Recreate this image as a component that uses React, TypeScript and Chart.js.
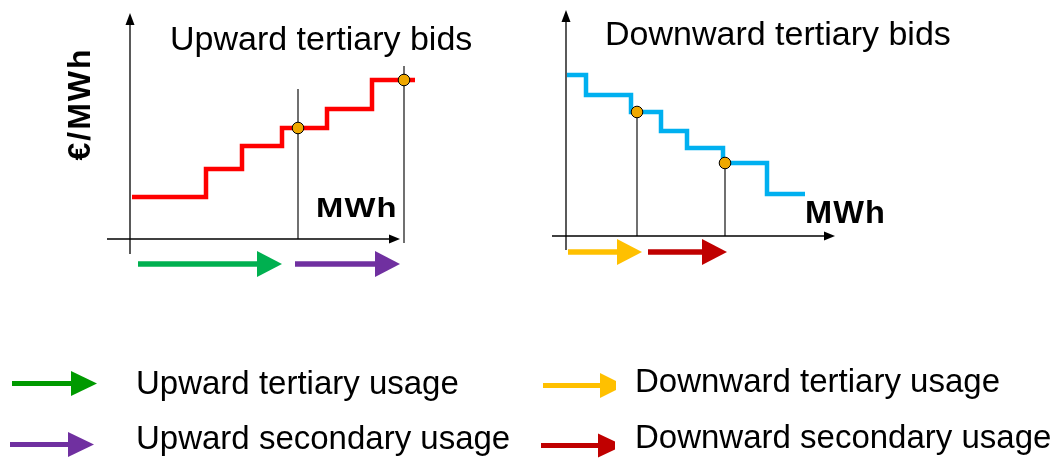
import React, { useEffect, useRef } from "react";
import { Chart, registerables } from "chart.js";

Chart.register(...registerables);

// ---------- Data (diagram units: quantity on x, price on y) ----------
// Upward tertiary bids (left panel)
const upStepQty = [0.2, 7.6, 11.2, 15.2, 19.7, 24.2, 28.5];
const upStepPrice = [4.2, 7.0, 9.3, 11.1, 13.0, 15.9, 15.9];
const upClearQty = [16.8, 27.4];
const upClearPrice = [11.1, 15.9];
const upGuideBottom = [0, -0.4];
const upGuideTop = [15.0, 17.3];
const upAxisQty = [-2.3, 27.0];
const upAxisPrice = [-1.5, 22.6];
const upUsageLevel = -2.5;
const upTertiaryUsage = [0.8, 15.2];
const upSecondaryUsage = [16.5, 27.0];

// Downward tertiary bids (right panel)
const downStepQty = [0.1, 2.0, 6.5, 9.5, 12.1, 15.7, 20.1, 23.9];
const downStepPrice = [16.1, 14.1, 12.4, 10.5, 8.8, 7.3, 4.2, 4.2];
const downClearQty = [7.1, 15.9];
const downClearPrice = [12.4, 7.3];
const downGuideBottom = [0, 0];
const downAxisQty = [-1.4, 26.9];
const downAxisPrice = [-1.4, 22.6];
const downUsageLevel = -1.6;
const downTertiaryUsage = [0.2, 7.6];
const downSecondaryUsage = [8.2, 16.1];

// Text
const upTitle = "Upward tertiary bids";
const downTitle = "Downward tertiary bids";
const qtyLabel = "MWh";
const priceLabel = "€/MWh";
const legendLabels = [
  "Upward tertiary usage",
  "Upward secondary usage",
  "Downward tertiary usage",
  "Downward secondary usage",
];

// Colours
const RED = "#FF0000";
const BLUE = "#00B0F0";
const DOT = "#EFA800";
const GREEN = "#00B050";
const PURPLE = "#7030A0";
const YELLOW = "#FFC000";
const DARKRED = "#C00000";
const LEGEND_GREEN = "#009A00";

const FONT = "'Liberation Sans', Arial, sans-serif";

const pts = (xs: number[], ys: number[]) => xs.map((x, i) => ({ x, y: ys[i] }));

const arrowPlugin = {
  id: "arrowHeads",
  afterDatasetsDraw(chart: any) {
    const ctx = chart.ctx;
    chart.data.datasets.forEach((ds: any, i: number) => {
      const a = ds.arrow;
      if (!a) return;
      const meta = chart.getDatasetMeta(i);
      const p = meta.data;
      if (!p || p.length < 2) return;
      const p0 = p[0];
      const p1 = p[p.length - 1];
      const dx = p1.x - p0.x;
      const dy = p1.y - p0.y;
      const len = Math.hypot(dx, dy) || 1;
      const ux = dx / len;
      const uy = dy / len;
      const nx = p1.x - ux * a.length;
      const ny = p1.y - uy * a.length;
      ctx.save();
      ctx.strokeStyle = a.color;
      ctx.fillStyle = a.color;
      ctx.lineWidth = a.lineWidth;
      ctx.lineCap = "butt";
      ctx.beginPath();
      ctx.moveTo(p0.x, p0.y);
      ctx.lineTo(nx + ux, ny + uy);
      ctx.stroke();
      ctx.beginPath();
      ctx.moveTo(p1.x, p1.y);
      ctx.lineTo(nx - (uy * a.width) / 2, ny + (ux * a.width) / 2);
      ctx.lineTo(nx + (uy * a.width) / 2, ny - (ux * a.width) / 2);
      ctx.closePath();
      ctx.fill();
      ctx.restore();
    });
  },
};

function arrowSet(from: { x: number; y: number }, to: { x: number; y: number }, color: string, length: number, width: number, lineWidth: number) {
  return {
    data: [from, to],
    showLine: false,
    pointRadius: 0,
    arrow: { color, length, width, lineWidth },
  };
}

function buildDatasets(cfg: {
  stepQty: number[];
  stepPrice: number[];
  stepColor: string;
  clearQty: number[];
  clearPrice: number[];
  guideBottom: number[];
  guideTop: number[];
  axisQty: number[];
  axisPrice: number[];
  usageLevel: number;
  usage: { range: number[]; color: string }[];
}) {
  const ds: any[] = [];
  ds.push({
    data: pts(cfg.clearQty, cfg.clearPrice),
    showLine: false,
    pointRadius: 5.8,
    pointBackgroundColor: DOT,
    pointBorderColor: "#000",
    pointBorderWidth: 1,
  });
  ds.push({
    data: pts(cfg.stepQty, cfg.stepPrice),
    showLine: true,
    stepped: true,
    borderColor: cfg.stepColor,
    borderWidth: 4.5,
    pointRadius: 0,
  });
  cfg.clearQty.forEach((q, i) => {
    ds.push({
      data: [
        { x: q, y: cfg.guideBottom[i] },
        { x: q, y: cfg.guideTop[i] },
      ],
      showLine: true,
      borderColor: "#111",
      borderWidth: 1.2,
      pointRadius: 0,
    });
  });
  ds.push(arrowSet({ x: cfg.axisQty[0], y: 0 }, { x: cfg.axisQty[1], y: 0 }, "#000", 11, 9, 1.3));
  ds.push(arrowSet({ x: 0, y: cfg.axisPrice[0] }, { x: 0, y: cfg.axisPrice[1] }, "#000", 12, 9, 1.3));
  cfg.usage.forEach((u) => {
    ds.push(arrowSet({ x: u.range[0], y: cfg.usageLevel }, { x: u.range[1], y: cfg.usageLevel }, u.color, 25, 26, 5.5));
  });
  return ds;
}

function Panel(props: {
  left: number;
  top: number;
  width: number;
  height: number;
  xMin: number;
  xMax: number;
  yMin: number;
  yMax: number;
  datasets: any[];
}) {
  const ref = useRef<HTMLCanvasElement>(null);
  useEffect(() => {
    const chart = new Chart(ref.current as HTMLCanvasElement, {
      type: "scatter",
      data: { datasets: props.datasets },
      options: {
        animation: false,
        responsive: false,
        events: [],
        layout: { padding: 0, autoPadding: false },
        plugins: {
          legend: { display: false },
          tooltip: { enabled: false },
          title: { display: false },
        },
        scales: {
          x: { type: "linear", display: false, min: props.xMin, max: props.xMax },
          y: { type: "linear", display: false, min: props.yMin, max: props.yMax },
        },
      } as any,
      plugins: [arrowPlugin],
    });
    return () => chart.destroy();
  }, []);
  return (
    <canvas
      ref={ref}
      width={props.width}
      height={props.height}
      style={{ position: "absolute", left: props.left, top: props.top, width: props.width, height: props.height }}
    />
  );
}

function Text(props: {
  left: number;
  top: number;
  size: number;
  bold?: boolean;
  spacing?: number;
  stretch?: number;
  children: React.ReactNode;
}) {
  return (
    <div
      style={{
        position: "absolute",
        left: props.left,
        top: props.top,
        fontFamily: FONT,
        fontSize: props.size,
        fontWeight: props.bold ? 700 : 400,
        letterSpacing: props.spacing ?? 0,
        lineHeight: 1,
        whiteSpace: "nowrap",
        color: "#000",
        transform: props.stretch ? `scaleX(${props.stretch})` : undefined,
        transformOrigin: "left top",
      }}
    >
      {props.children}
    </div>
  );
}

export default function App() {
  const upDatasets = buildDatasets({
    stepQty: upStepQty,
    stepPrice: upStepPrice,
    stepColor: RED,
    clearQty: upClearQty,
    clearPrice: upClearPrice,
    guideBottom: upGuideBottom,
    guideTop: upGuideTop,
    axisQty: upAxisQty,
    axisPrice: upAxisPrice,
    usageLevel: upUsageLevel,
    usage: [
      { range: upTertiaryUsage, color: GREEN },
      { range: upSecondaryUsage, color: PURPLE },
    ],
  });
  const downDatasets = buildDatasets({
    stepQty: downStepQty,
    stepPrice: downStepPrice,
    stepColor: BLUE,
    clearQty: downClearQty,
    clearPrice: downClearPrice,
    guideBottom: downGuideBottom,
    guideTop: downClearPrice,
    axisQty: downAxisQty,
    axisPrice: downAxisPrice,
    usageLevel: downUsageLevel,
    usage: [
      { range: downTertiaryUsage, color: YELLOW },
      { range: downSecondaryUsage, color: DARKRED },
    ],
  });

  return (
    <div style={{ position: "absolute", left: 0, top: 0, width: 1064, height: 459, background: "#fff", overflow: "hidden" }}>
      <Panel left={60} top={0} width={420} height={300} xMin={-7} xMax={35} yMin={-6.1} yMax={23.9} datasets={upDatasets} />
      <Panel left={520} top={0} width={460} height={300} xMin={-4.6} xMax={41.4} yMin={-6.4} yMax={23.6} datasets={downDatasets} />

      <Text left={170} top={21} size={34}>{upTitle}</Text>
      <Text left={605} top={16} size={34}>{downTitle}</Text>
      <Text left={316} top={194} size={28} bold spacing={1} stretch={1.17}>{qtyLabel}</Text>
      <Text left={805} top={197} size={31} bold spacing={1} stretch={1.05}>{qtyLabel}</Text>
      <div
        style={{
          position: "absolute",
          left: 79,
          top: 104,
          transform: "translate(-50%, -50%) rotate(-90deg)",
          fontFamily: FONT,
          fontSize: 32,
          fontWeight: 700,
          letterSpacing: 2,
          lineHeight: 1,
          whiteSpace: "nowrap",
        }}
      >
        {priceLabel}
      </div>

      <svg width={1064} height={459} style={{ position: "absolute", left: 0, top: 0, pointerEvents: "none" }}>
        <line x1={12} y1={383.5} x2={72} y2={383.5} stroke={LEGEND_GREEN} strokeWidth={5} />
        <polygon points="71,371 97,383.5 71,396" fill={LEGEND_GREEN} />
        <line x1={10} y1={444.5} x2={69} y2={444.5} stroke={PURPLE} strokeWidth={5} />
        <polygon points="68,432 94,444.5 68,457" fill={PURPLE} />
        <line x1={543} y1={385.5} x2={601} y2={385.5} stroke={YELLOW} strokeWidth={5} />
        <polygon points="600,373 616,381 616,390 600,398" fill={YELLOW} />
        <line x1={541} y1={445.5} x2={599} y2={445.5} stroke={DARKRED} strokeWidth={5} />
        <polygon points="598,433.5 615,441.5 615,449.5 598,457.5" fill={DARKRED} />
      </svg>

      <Text left={136} top={366} size={33}>{legendLabels[0]}</Text>
      <Text left={136} top={421} size={33}>{legendLabels[1]}</Text>
      <Text left={635} top={364} size={33}>{legendLabels[2]}</Text>
      <Text left={635} top={420} size={33}>{legendLabels[3]}</Text>
    </div>
  );
}
